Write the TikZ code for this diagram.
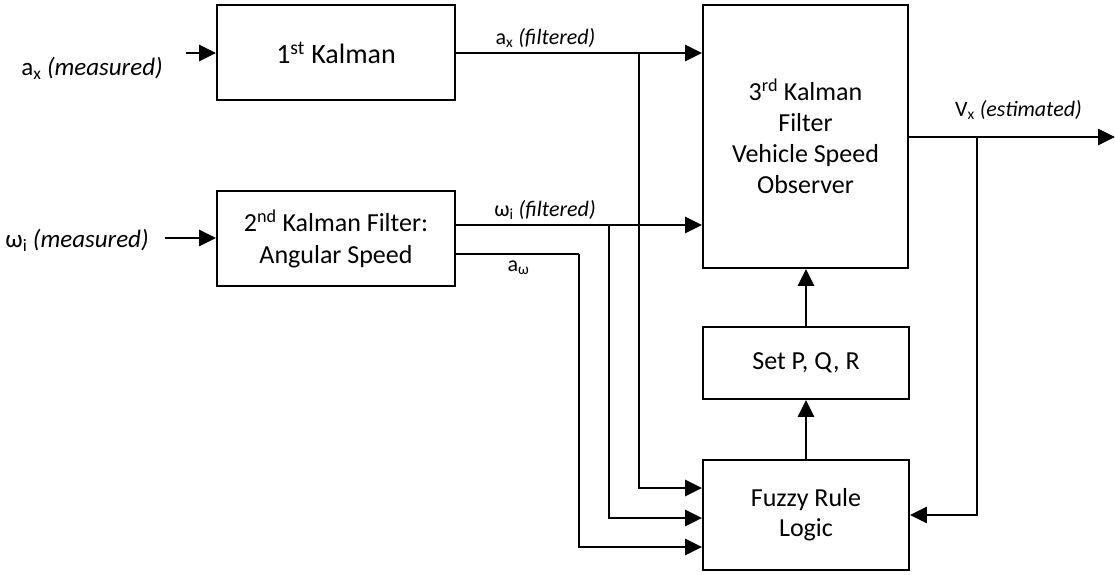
\documentclass[tikz,border=0pt]{standalone}
\usepackage{fontspec}
\setmainfont{Carlito}
\usetikzlibrary{arrows.meta}
\begin{document}
\begin{tikzpicture}[x=1pt,y=-1pt,
  block/.style={draw, line width=1.8pt, rectangle, inner sep=0pt, align=center,
    font=\fontsize{26}{31}\selectfont},
  arr/.style={line width=2.6pt, -{Triangle[length=17pt,width=16pt]}},
  wire/.style={line width=2.6pt},
  lbl/.style={inner sep=0pt, font=\fontsize{22}{26}\selectfont},
  inlbl/.style={inner sep=0pt, font=\fontsize{25}{29}\selectfont}]
\useasboundingbox (0,0) rectangle (1115,574);

% processing blocks
\node[block, minimum width=238pt, minimum height=95pt, font=\fontsize{28}{32}\selectfont] (b1) at (336,52.5) {1\textsuperscript{st} Kalman};
\node[block, minimum width=238pt, minimum height=95pt, font=\fontsize{26}{32}\selectfont] (b2) at (336,238.5) {2\textsuperscript{nd} Kalman Filter:\\Angular Speed};
\node[block, minimum width=205pt, minimum height=263pt] (b3) at (805.5,136.5) {3\textsuperscript{rd} Kalman\\Filter\\Vehicle Speed\\Observer};
\node[block, minimum width=206pt, minimum height=72pt] (pqr) at (806,363) {Set P, Q, R};
\node[block, minimum width=206pt, minimum height=110pt, font=\fontsize{26}{30}\selectfont] (fz) at (806,515) {Fuzzy Rule\\Logic};

% signal labels
\node[inlbl] (laxm) at (92,68) {a\textsubscript{x} \textit{(measured)}};
\node[inlbl] (lwm) at (77,240) {ω\textsubscript{i} \textit{(measured)}};
\node[lbl] (laxf) at (545.5,38) {a\textsubscript{x} \textit{(filtered)}};
\node[lbl] (lwf) at (545,210) {ω\textsubscript{i} \textit{(filtered)}};
\node[lbl] (law) at (518.5,268) {a\textsubscript{ω}};
\node[lbl] (lvx) at (1018.5,110) {V\textsubscript{x} \textit{(estimated)}};

% junction and terminal points
\coordinate (axin) at (186,53);
\coordinate (win) at (165,238);
\coordinate (jax) at (639,53);
\coordinate (jw) at (609,225);
\coordinate (jaw) at (579,254);
\coordinate (jvx) at (977,137);
\coordinate (vout) at (1115,137);

% inputs
\draw[arr] (axin) -- (axin -| b1.west);
\draw[arr] (win) -- (win -| b2.west);

% filtered signals into the observer
\draw[arr] (b1.east |- jax) -- (jax -| b3.west);
\draw[arr] (b2.east |- jw) -- (jw -| b3.west);
\draw[wire] (b2.east |- jaw) -- (jaw);

% branches into the fuzzy logic block
\draw[arr] (jax) |- ([yshift=27pt]fz.west);
\draw[arr] (jw) |- ([yshift=-3pt]fz.west);
\draw[arr] (jaw) |- ([yshift=-32pt]fz.west);

% tuning path
\draw[arr] (fz.north) -- (pqr.south);
\draw[arr] (pqr.north) -- (pqr.north |- b3.south);

% estimated speed output and feedback
\draw[arr] (b3.east |- jvx) -- (vout);
\draw[arr] (jvx) |- (fz.east);
\end{tikzpicture}
\end{document}
